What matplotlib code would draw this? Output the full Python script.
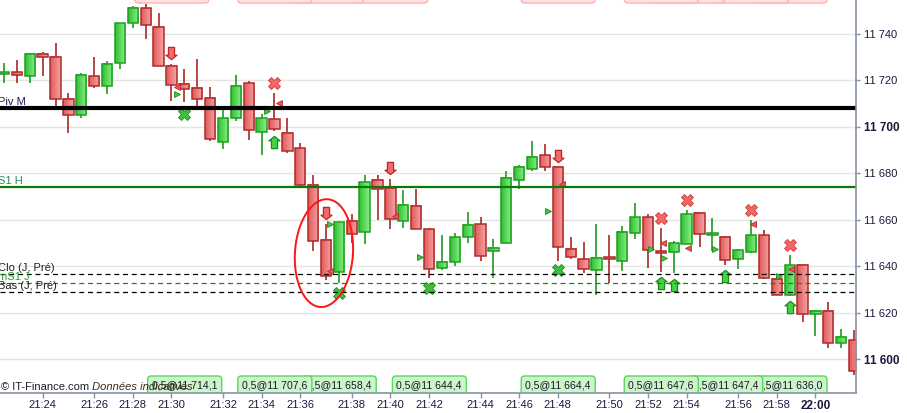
import matplotlib
matplotlib.use("Agg")
import matplotlib.pyplot as plt
import matplotlib.transforms as mtransforms
from matplotlib.patches import FancyBboxPatch, Rectangle
from matplotlib.path import Path
from matplotlib.colors import LinearSegmentedColormap
import numpy as np

plt.rcParams['font.family'] = ['Liberation Sans', 'DejaVu Sans']

# ---------------- data ----------------
opens = [11722.8, 11723.6, 11721.9, 11731.4, 11730.1, 11712.0, 11705.1, 11721.9, 11717.6, 11727.5,
         11744.7, 11751.2, 11743.0, 11726.2, 11718.5, 11716.8, 11712.5, 11693.5, 11703.8, 11718.9,
         11697.8, 11703.4, 11697.4, 11690.9, 11675.0, 11651.3, 11637.6, 11659.5, 11654.8, 11677.2,
         11673.7, 11659.5, 11666.0, 11656.1, 11639.3, 11641.9, 11652.6, 11658.2, 11646.6, 11650.0,
         11677.2, 11681.9, 11687.9, 11682.8, 11647.5, 11643.2, 11638.4, 11644.0, 11642.3, 11654.4,
         11661.2, 11646.4, 11646.2, 11649.6, 11663.0, 11653.7, 11652.6, 11643.2, 11646.2, 11653.5,
         11634.6, 11627.7, 11640.6, 11619.5, 11620.8, 11607.0, 11608.3]
highs = [11727.5, 11728.8, 11731.8, 11732.3, 11736.1, 11714.6, 11723.2, 11730.1, 11728.4, 11744.9,
         11752.1, 11752.9, 11749.0, 11727.1, 11724.9, 11729.2, 11717.2, 11708.6, 11722.4, 11719.8,
         11705.6, 11714.6, 11703.8, 11693.1, 11679.3, 11658.2, 11659.1, 11662.5, 11679.3, 11679.3,
         11677.6, 11672.9, 11673.3, 11656.5, 11653.5, 11654.4, 11663.4, 11661.2, 11651.8, 11681.0,
         11683.6, 11694.0, 11692.7, 11682.8, 11652.6, 11650.5, 11658.2, 11653.5, 11657.4, 11667.3,
         11662.5, 11656.5, 11650.9, 11664.3, 11663.0, 11660.8, 11652.6, 11647.5, 11660.0, 11655.6,
         11636.3, 11644.9, 11640.6, 11621.2, 11624.7, 11613.0, 11612.6]
lows = [11719.0, 11718.9, 11718.9, 11721.9, 11709.0, 11697.4, 11703.8, 11716.8, 11714.2, 11724.9,
        11742.6, 11737.8, 11726.2, 11711.2, 11710.7, 11708.6, 11694.0, 11690.5, 11702.6, 11694.4,
        11687.9, 11698.3, 11688.8, 11674.6, 11646.6, 11634.1, 11632.8, 11650.0, 11649.6, 11660.0,
        11656.1, 11656.5, 11656.1, 11635.0, 11638.4, 11640.2, 11650.0, 11642.3, 11635.0, 11650.0,
        11673.3, 11681.0, 11681.0, 11642.3, 11643.2, 11637.1, 11627.7, 11632.8, 11638.0, 11651.8,
        11639.3, 11637.6, 11637.1, 11649.6, 11648.3, 11646.6, 11640.6, 11638.9, 11645.7, 11634.6,
        11627.7, 11627.2, 11616.0, 11610.0, 11604.9, 11604.9, 11593.3]
closes = [11723.6, 11722.4, 11731.4, 11730.1, 11712.0, 11705.1, 11722.4, 11717.6, 11727.1, 11744.7,
          11751.2, 11743.9, 11726.2, 11718.0, 11716.3, 11712.0, 11694.8, 11703.8, 11717.6, 11698.7,
          11703.8, 11699.1, 11689.6, 11675.0, 11650.9, 11635.8, 11659.1, 11653.9, 11676.3, 11673.3,
          11660.4, 11666.4, 11656.1, 11638.9, 11641.9, 11652.6, 11657.8, 11644.5, 11647.9, 11678.0,
          11682.8, 11687.1, 11682.8, 11648.3, 11644.0, 11638.9, 11643.6, 11643.2, 11654.8, 11661.2,
          11647.0, 11646.0, 11650.0, 11662.5, 11653.9, 11654.1, 11642.7, 11647.0, 11653.5, 11635.0,
          11627.7, 11640.6, 11619.5, 11620.8, 11607.0, 11609.6, 11595.0]

tick_idx = [3, 7, 10, 13, 17, 20, 23, 27, 30, 33, 37, 40, 43, 47, 50, 53, 57, 60, 63]
tick_lbl = ['21:24', '21:26', '21:28', '21:30', '21:32', '21:34', '21:36', '21:38', '21:40',
            '21:42', '21:44', '21:46', '21:48', '21:50', '21:52', '21:54', '21:56', '21:58', '22:00']
y_ticks = [11600, 11620, 11640, 11660, 11680, 11700, 11720, 11740]
y_bold = [11600, 11700]

pivot_m = 11708.0
s1_h = 11674.3
clo_j = 11636.7
ms1_j = 11632.8
bas_j = 11628.8

order_idx = [11, 18, 23, 30, 40, 48, 53, 58]
order_txt = ['0,5@11 714,1', '0,5@11 707,6', '0,5@11 658,4', '0,5@11 644,4',
             '0,5@11 664,4', '0,5@11 647,6', '0,5@11 647,4', '0,5@11 636,0']
pink_idx = [10, 18, 22, 27, 40, 48, 50, 55, 58]

sell_arrow_idx = [13, 25, 30, 43]
sell_arrow_val = [11731.8, 11663.0, 11682.3, 11687.5]
buy_arrow_idx = [21, 51, 52, 56, 61]
buy_arrow_val = [11693.7, 11632.8, 11632.0, 11635.8, 11622.3]
red_x_idx = [21, 51, 53, 58, 61]
red_x_val = [11718.9, 11660.8, 11668.6, 11664.3, 11649.2]
green_x_idx = [14, 26, 33, 43]
green_x_val = [11705.6, 11628.5, 11630.7, 11638.4]
green_tri_x = [13.4, 20.4, 25.3, 32.3, 42.25, 50.25, 51.25, 55.2, 60.2]
green_tri_val = [11714.2, 11706.9, 11658.2, 11644.0, 11663.8, 11647.5, 11643.6, 11647.5, 11635.8]
red_tri_x = [13.45, 21.35, 25.3, 30.36, 43.32, 51.16, 53.11, 58.15, 61.1]
red_tri_val = [11717.2, 11710.3, 11638.0, 11661.7, 11675.4, 11650.0, 11647.9, 11658.2, 11638.9]

circle_center = (24.84, 11645.7)

# ---------------- figure ----------------
fig = plt.figure(figsize=(9.07, 4.13), dpi=100)
ax = fig.add_axes([0.0, 20 / 413, 856 / 907, 393 / 413])
XLIM = (-0.3106, 66.149)
YLIM = (11585.5, 11754.63)
ax.set_xlim(*XLIM)
ax.set_ylim(*YLIM)
ax.set_autoscale_on(False)

sx = 856 / (XLIM[1] - XLIM[0])   # px per x unit
sy = 393 / (YLIM[1] - YLIM[0])   # px per y unit

for v in y_ticks:
    ax.axhline(v, color='#e4e4e4', lw=1.0, zorder=1)

red_cmap = LinearSegmentedColormap.from_list('r', ['#e15a5a', '#f6a3a3'])
green_cmap = LinearSegmentedColormap.from_list('g', ['#30c030', '#8cf08c'])
grad = np.linspace(0, 1, 32).reshape(1, -1)
bw = 0.8
for i, (o, h, l, c) in enumerate(zip(opens, highs, lows, closes)):
    up = c >= o
    wick_col = '#1f9a1f' if up else '#a82828'
    edge_col = '#1e9e1e' if up else '#b02a2a'
    ax.plot([i, i], [l, h], color=wick_col, lw=1.2, zorder=3, solid_capstyle='butt')
    lo, hi = min(o, c), max(o, c)
    if hi - lo < 0.8:
        mid = (hi + lo) / 2
        lo, hi = mid - 0.4, mid + 0.4
    ax.imshow(grad, cmap=green_cmap if up else red_cmap,
              extent=[i - bw / 2, i + bw / 2, lo, hi], aspect='auto',
              interpolation='bilinear', zorder=4)
    ax.add_patch(Rectangle((i - bw / 2, lo), bw, hi - lo, fill=False,
                           ec=edge_col, lw=1.1, zorder=5))

# markers
down_arrow = Path([(-0.25, 0.5), (0.25, 0.5), (0.25, -0.14), (0.45, -0.14), (0.0, -0.5),
                   (-0.45, -0.14), (-0.25, -0.14), (-0.25, 0.5)],
                  [Path.MOVETO] + [Path.LINETO] * 6 + [Path.CLOSEPOLY])
up_arrow = Path([(x, -y) for x, y in down_arrow.vertices], down_arrow.codes)

ax.plot(sell_arrow_idx, sell_arrow_val, ls='none', marker=down_arrow, ms=8.8,
        mfc='#f06a6a', mec='#c02424', mew=0.9, zorder=6)
ax.plot(buy_arrow_idx, buy_arrow_val, ls='none', marker=up_arrow, ms=8.8,
        mfc='#48d048', mec='#1a8a1a', mew=0.9, zorder=6)
ax.plot(red_x_idx, red_x_val, ls='none', marker='X', ms=8.5,
        mfc='#f06868', mec='#d03c3c', mew=0.6, zorder=6)
ax.plot(green_x_idx, green_x_val, ls='none', marker='X', ms=8.5,
        mfc='#3cc03c', mec='#1f8a1f', mew=0.6, zorder=6)
ax.plot(green_tri_x, green_tri_val, ls='none', marker='>', ms=5,
        mfc='#40c840', mec='#1f8a1f', mew=0.6, zorder=6)
ax.plot(red_tri_x, red_tri_val, ls='none', marker='<', ms=5,
        mfc='#e85858', mec='#c02828', mew=0.6, zorder=6)

# level lines
ax.axhline(pivot_m, color='black', lw=3.0, zorder=7)
ax.axhline(s1_h, color='#087a08', lw=1.6, zorder=7)
ax.axhline(clo_j, color='black', lw=0.9, ls=(0, (4, 3)), zorder=7)
ax.axhline(ms1_j, color='#108a10', lw=0.9, ls=(0, (4, 3)), zorder=7)
ax.axhline(bas_j, color='black', lw=0.9, ls=(0, (4, 3)), zorder=7)

blend = mtransforms.blended_transform_factory(ax.transAxes, ax.transData)
def lvl_label(val, txt, col, dy):
    tr = mtransforms.offset_copy(blend, fig=fig, x=-1.5, y=dy, units='dots')
    ax.text(0, val, txt, transform=tr, ha='left', va='baseline', fontsize=8,
            color=col, zorder=8)

lvl_label(pivot_m, 'Piv M', '#1a1a50', 3.5)
lvl_label(s1_h, 'S1 H', '#2a8a5a', 3.0)
lvl_label(clo_j, 'Clo (J, Pré)', '#202020', 3.0)
lvl_label(ms1_j, 'mS1 J', '#2a9a2a', 3.5)
lvl_label(bas_j, 'Bas (J, Pré)', '#202020', 3.5)

# red hand-drawn circle
t = np.linspace(0, 2 * np.pi, 200)
a_px, b_px, th = 29, 54, np.deg2rad(-4)
px = a_px * np.cos(t) * np.cos(th) - b_px * np.sin(t) * np.sin(th)
py = a_px * np.cos(t) * np.sin(th) + b_px * np.sin(t) * np.cos(th)
ax.plot(circle_center[0] + px / sx, circle_center[1] + py / sy, color='#ff1414', lw=1.4, zorder=9)

# order boxes (bottom, green) and top (pink)
m_aspect = (1 / sy) / (1 / sx)
box_w = 74 / sx
for k, (idx, txt) in enumerate(zip(order_idx, order_txt)):
    x0 = idx + 2 / sx
    y0 = YLIM[0] - 3
    h = (YLIM[0] + 17 / sy) - y0
    z = 20 - k * 0.1
    ax.add_patch(FancyBboxPatch((x0, y0), box_w, h,
                                boxstyle='round,pad=0,rounding_size=%.3f' % (3.5 / sx),
                                mutation_aspect=m_aspect, fc='#ccf5cc', ec='#5ad85a',
                                lw=1.0, zorder=z))
    ax.text(x0 + 4 / sx, YLIM[0] + 8 / sy, txt, fontsize=7.6, color='#1a1a2a',
            ha='left', va='center', zorder=z + 0.05, clip_on=True)

for k, idx in enumerate(pink_idx):
    x0 = idx + 2 / sx
    y0 = YLIM[1] - 3 / sy
    z = 20 - k * 0.1
    ax.add_patch(FancyBboxPatch((x0, y0), box_w, 10,
                                boxstyle='round,pad=0,rounding_size=%.3f' % (3.5 / sx),
                                mutation_aspect=m_aspect, fc='#ffe2e2', ec='#ffb0b0',
                                lw=1.0, zorder=z))

# copyright
t1 = ax.text(0.001, 6 / 393, '© IT-Finance.com', transform=ax.transAxes, fontsize=8,
             color='#202020', ha='left', va='center', zorder=30)
ax.annotate(' Données indicatives', xy=(1, 0), xycoords=t1, ha='left', va='bottom',
            fontsize=8, style='italic', color='#3a2a14', zorder=30)

# axes styling
ax.yaxis.tick_right()
ax.set_yticks(y_ticks, ['%d %03d' % (v // 1000, v % 1000) for v in y_ticks])
ax.set_xticks(tick_idx, tick_lbl)
ax.tick_params(axis='y', direction='out', length=3, width=1, color='#8594a3', pad=2.5,
               labelsize=8, labelcolor='#1a1a40')
ax.tick_params(axis='x', direction='out', length=3.6, width=1, color='#8594a3', pad=1.5,
               labelsize=8, labelcolor='#1a1a40')
for lbl, v in zip(ax.get_yticklabels(), y_ticks):
    if v in y_bold:
        lbl.set_fontweight('bold')
        lbl.set_fontsize(8.5)
for lbl, s in zip(ax.get_xticklabels(), tick_lbl):
    if s == '22:00':
        lbl.set_fontweight('bold')
        lbl.set_fontsize(8.5)

for s in ('left', 'top'):
    ax.spines[s].set_visible(False)
for s in ('right', 'bottom'):
    ax.spines[s].set_color('#8594a3')
    ax.spines[s].set_linewidth(1.2)
    ax.spines[s].set_zorder(40)

ax.set_xlim(*XLIM)
ax.set_ylim(*YLIM)
fig.savefig('out.png', dpi=100, facecolor='white')
